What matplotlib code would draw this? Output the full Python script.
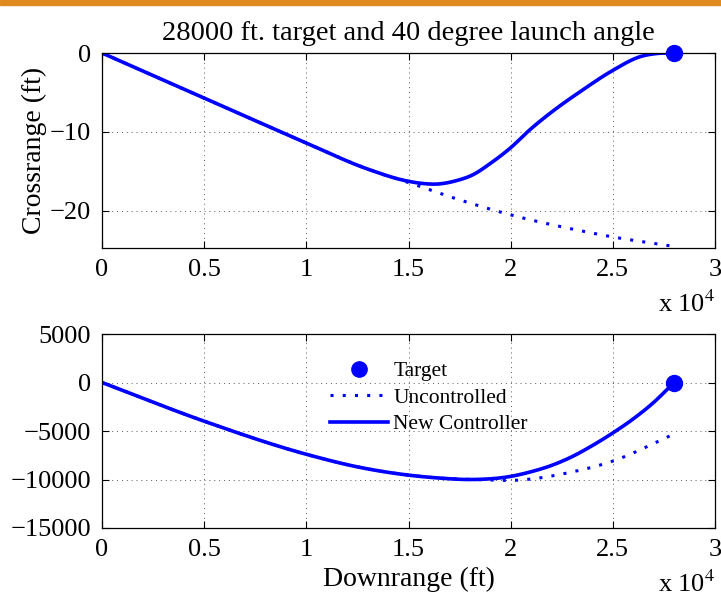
import numpy as np
import matplotlib
matplotlib.use('Agg')
import matplotlib.pyplot as plt
from matplotlib.lines import Line2D

plt.rcParams['font.family'] = ['Liberation Serif', 'DejaVu Serif']
plt.rcParams['font.size'] = 19
plt.rcParams['mathtext.fontset'] = 'stix'

# crossrange, new controller
cr_ctrl_x = np.array([0, 0.5, 1.0, 1.3, 1.49, 1.56, 1.64, 1.73, 1.817, 1.9, 2.0, 2.095,
                      2.225, 2.34, 2.5, 2.633, 2.72, 2.8]) * 1e4
cr_ctrl_y = np.array([0, -5.7, -11.4, -14.7, -16.2, -16.5, -16.6, -16.2, -15.4, -14.0,
                      -12.0, -9.7, -7.0, -4.9, -2.2, -0.47, -0.05, 0])
# crossrange, uncontrolled
cr_unc_x = np.array([0, 0.5, 1.0, 1.3, 1.5, 1.75, 2.0, 2.32, 2.5, 2.8]) * 1e4
cr_unc_y = np.array([0, -5.7, -11.4, -14.7, -16.4, -18.6, -20.5, -22.4, -23.3, -24.5])

# altitude, new controller
alt_ctrl_x = np.array([0, 0.5, 1.0, 1.25, 1.5, 1.65, 1.82, 2.0, 2.1, 2.2, 2.3, 2.4, 2.5,
                       2.6, 2.7, 2.8]) * 1e4
alt_ctrl_y = np.array([0, -3990, -7400, -8700, -9550, -9850, -10000, -9680, -9200, -8550,
                       -7650, -6500, -5200, -3750, -2050, 0])
# altitude, uncontrolled
alt_unc_x = np.array([0, 0.5, 1.0, 1.25, 1.5, 1.65, 1.82, 1.9, 2.0, 2.1, 2.26, 2.5,
                      2.8]) * 1e4
alt_unc_y = np.array([0, -3990, -7400, -8700, -9550, -9850, -10000, -10050, -10100,
                      -9950, -9400, -8100, -5300])

target_x = 28000
target_y = [0, 0]

xticks = np.arange(0, 30001, 5000)
xticklabels = ['0', '0.5', '1', '1.5', '2', '2.5', '3']


def smooth(x, y, n=400):
    # cubic hermite through the points, slopes from centred differences
    d = np.gradient(y, x)
    t = np.linspace(x[0], x[-1], n)
    i = np.clip(np.searchsorted(x, t) - 1, 0, len(x) - 2)
    h = x[i + 1] - x[i]
    s = (t - x[i]) / h
    h00 = 2 * s**3 - 3 * s**2 + 1
    h10 = s**3 - 2 * s**2 + s
    h01 = -2 * s**3 + 3 * s**2
    h11 = s**3 - s**2
    return t, h00 * y[i] + h10 * h * d[i] + h01 * y[i + 1] + h11 * h * d[i + 1]


blue = '#0000ff'
fig = plt.figure(figsize=(7.21, 6.04), dpi=100)

# orange banner strip along the top
fig.patches.append(plt.Rectangle((0, 1 - 5 / 604), 1, 5 / 604, transform=fig.transFigure,
                                 color='#e08b1f', zorder=5))

ax1 = fig.add_axes([102 / 721, 1 - 248 / 604, 613 / 721, 195 / 604])
ax2 = fig.add_axes([102 / 721, 1 - 528 / 604, 613 / 721, 194 / 604])

for ax in (ax1, ax2):
    ax.set_xlim(0, 30000)
    ax.set_xticks(xticks)
    ax.set_xticklabels(xticklabels)
    ax.tick_params(direction='in', top=True, right=True, length=5, width=0.8, pad=8)
    ax.grid(True, linestyle=(0, (1, 4)), color='0.35', linewidth=0.7)
    for s in ax.spines.values():
        s.set_linewidth(0.9)

x, y = smooth(cr_unc_x, cr_unc_y)
ax1.plot(x, y, color=blue, linestyle=(0, (1, 3)), linewidth=2.2)
x, y = smooth(cr_ctrl_x, cr_ctrl_y)
ax1.plot(x, y, color=blue, linewidth=2.6)
ax1.plot(target_x, target_y[0], 'o', color=blue, markersize=11.5, clip_on=False, zorder=6)
ax1.set_ylim(-24.7, 0)
ax1.set_yticks([0, -10, -20])
ax1.set_ylabel('Crossrange (ft)', labelpad=2, fontsize=20)
ax1.set_title('28000 ft. target and 40 degree launch angle', fontsize=20.5, pad=9)
ax1.text(1.0, -0.22, r'x 10$^4$', transform=ax1.transAxes, ha='right', va='top')

x, y = smooth(alt_unc_x, alt_unc_y)
ax2.plot(x, y, color=blue, linestyle=(0, (1, 3)), linewidth=2.2)
x, y = smooth(alt_ctrl_x, alt_ctrl_y)
ax2.plot(x, y, color=blue, linewidth=2.6)
ax2.plot(target_x, target_y[1], 'o', color=blue, markersize=11.5, clip_on=False, zorder=6)
ax2.set_ylim(-15000, 5000)
ax2.set_yticks([5000, 0, -5000, -10000, -15000])
ax2.set_xlabel('Downrange (ft)', labelpad=4, fontsize=20)
ax2.text(1.0, -0.22, r'x 10$^4$', transform=ax2.transAxes, ha='right', va='top')

handles = [Line2D([], [], color=blue, marker='o', linestyle='none', markersize=11),
           Line2D([], [], color=blue, linestyle=(0, (1, 3)), linewidth=2.2),
           Line2D([], [], color=blue, linewidth=2.6)]
ax2.legend(handles, ['Target', 'Uncontrolled', 'New Controller'], loc='upper left',
           bbox_to_anchor=(0.34, 0.96), frameon=False, fontsize=15.5, handlelength=2.7,
           labelspacing=0.3, handletextpad=0.25)

fig.savefig('out.png', dpi=100)
